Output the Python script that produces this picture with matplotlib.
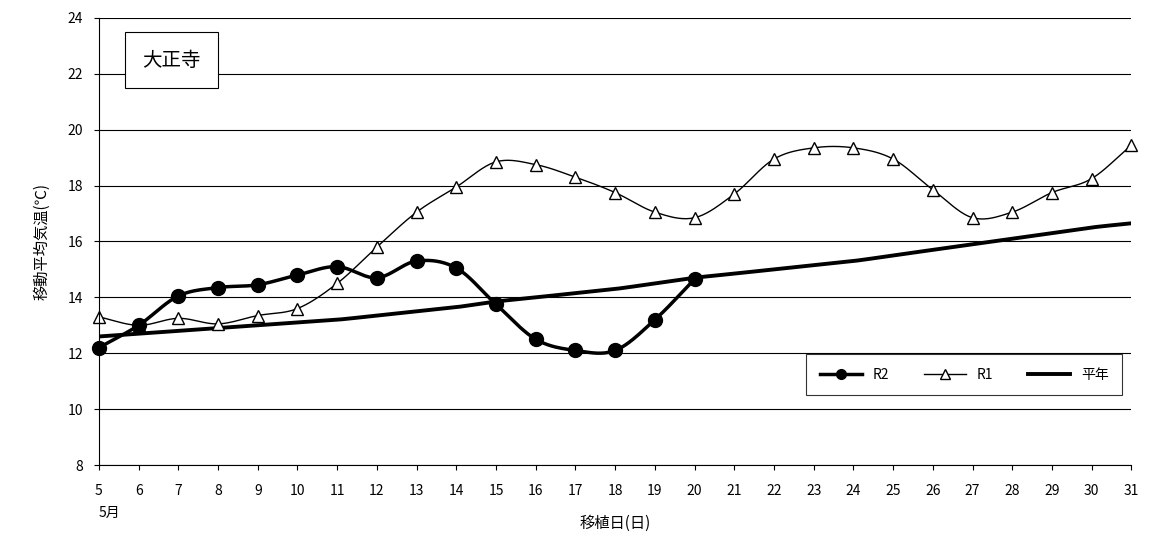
import numpy as np
import matplotlib
matplotlib.use("Agg")
import matplotlib.pyplot as plt

plt.rcParams['font.family'] = ['Noto Sans CJK JP', 'DejaVu Sans']

days = list(range(5, 32))
r2_days = list(range(5, 21))
r2 = [12.2, 13.0, 14.05, 14.35, 14.45, 14.8, 15.1, 14.7, 15.3, 15.05,
      13.75, 12.5, 12.1, 12.1, 13.2, 14.65]
r1 = [13.3, 13.0, 13.25, 13.05, 13.35, 13.6, 14.5, 15.8, 17.05, 17.95,
      18.85, 18.75, 18.3, 17.75, 17.05, 16.85, 17.7, 18.95, 19.35, 19.35,
      18.95, 17.85, 16.85, 17.05, 17.75, 18.25, 19.45]
heinen = [12.6, 12.7, 12.8, 12.9, 13.0, 13.1, 13.2, 13.35, 13.5, 13.65,
          13.85, 14.0, 14.15, 14.3, 14.5, 14.7, 14.85, 15.0, 15.15, 15.3,
          15.5, 15.7, 15.9, 16.1, 16.3, 16.5, 16.65]


def smooth(x, y, n=20):
    # Catmull-Rom curve like Excel's smoothed line
    x = np.asarray(x, float)
    y = np.asarray(y, float)
    px = np.concatenate([[2 * x[0] - x[1]], x, [2 * x[-1] - x[-2]]])
    py = np.concatenate([[2 * y[0] - y[1]], y, [2 * y[-1] - y[-2]]])
    xs, ys = [], []
    t = np.linspace(0, 1, n, endpoint=False)
    for i in range(1, len(px) - 2):
        for p, out in ((px, xs), (py, ys)):
            p0, p1, p2, p3 = p[i - 1], p[i], p[i + 1], p[i + 2]
            out.extend(0.5 * (2 * p1 + (-p0 + p2) * t
                              + (2 * p0 - 5 * p1 + 4 * p2 - p3) * t ** 2
                              + (-p0 + 3 * p1 - 3 * p2 + p3) * t ** 3))
    xs.append(x[-1])
    ys.append(y[-1])
    return xs, ys


fig = plt.figure(figsize=(11.64, 5.42), dpi=100)
ax = fig.add_axes([0.085, 0.142, 0.887, 0.825])

ax.set_ylim(8, 24)
ax.set_xlim(5, 31)
ax.set_yticks(range(8, 25, 2))
ax.set_xticks(days)
ax.grid(axis='y', color='black', lw=0.8)
ax.set_axisbelow(True)
for s in ['top', 'right']:
    ax.spines[s].set_visible(False)
ax.tick_params(labelsize=10, direction='out')
ax.tick_params(axis='x', pad=10)
ax.tick_params(axis='y', pad=8)

ax.plot(*smooth(days, heinen), color='black', lw=2.8, label='平年')
ax.plot(*smooth(days, r1), color='black', lw=1)
ax.plot(days, r1, ls='none', marker='^', mfc='white', mec='black', ms=8, clip_on=False)
ax.plot(*smooth(r2_days, r2), color='black', lw=2.5)
ax.plot(r2_days, r2, ls='none', marker='o', color='black', ms=10, clip_on=False)

# legend proxies
h2, = ax.plot([], [], color='black', lw=2.5, marker='o', ms=7, label='R2')
h1, = ax.plot([], [], color='black', lw=1, marker='^', mfc='white', ms=7, label='R1')
h0, = ax.plot([], [], color='black', lw=2.8, label='平年')
leg = ax.legend(handles=[h2, h1, h0], ncol=3, loc='lower right',
                bbox_to_anchor=(0.998, 0.14), fancybox=False, edgecolor='black',
                fontsize=10, borderpad=1.0, handlelength=3, columnspacing=2.5)
leg.get_frame().set_linewidth(0.8)

ax.text(0.042, 0.905, '大正寺', transform=ax.transAxes, fontsize=14,
        ha='left', va='center',
        bbox=dict(boxstyle='square,pad=0.9', fc='white', ec='black', lw=0.8))

ax.set_ylabel('移動平均気温(℃)', fontsize=11, labelpad=12)
ax.set_xlabel('移植日(日)', fontsize=11, labelpad=12)
ax.text(5, 6.3, '5月', ha='left', va='center', fontsize=10)

fig.savefig('out.png')
